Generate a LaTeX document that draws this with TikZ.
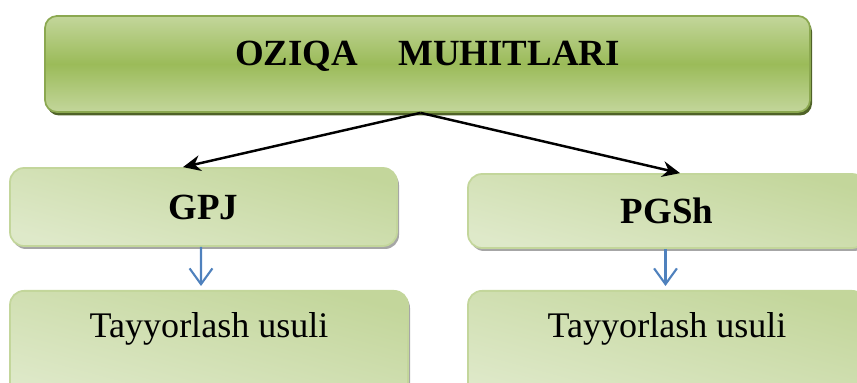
\documentclass[tikz,border=0pt]{standalone}
\usepackage{fontspec}
\setmainfont{Liberation Serif}
\usetikzlibrary{positioning,shadows,arrows.meta}
\definecolor{mygreen}{RGB}{155,187,89}
\definecolor{mylightgreen}{RGB}{195,214,155}
\definecolor{mypalegreen}{RGB}{240,245,231}
\definecolor{mydarkgreen}{RGB}{79,98,40}
\definecolor{myblue}{RGB}{79,129,189}

\begin{document}
\begin{tikzpicture}[
  topbox/.style={draw=mygreen!90!black,line width=1pt,rounded corners=0.24cm,
    top color=mylightgreen,bottom color=mylightgreen,middle color=mygreen,
    drop shadow={shadow xshift=0.04cm,shadow yshift=-0.07cm,fill=mydarkgreen,opacity=1},
    minimum width=15.3cm,minimum height=1.92cm,font=\fontsize{21}{24}\selectfont\bfseries},
  midbox/.style={draw=mylightgreen,line width=1pt,rounded corners=0.28cm,
    top color=mylightgreen,middle color=mypalegreen,
    bottom color=mylightgreen!40!mypalegreen,shading angle=-15,
    drop shadow={shadow xshift=0.04cm,shadow yshift=-0.06cm,fill=black!35,opacity=1},
    font=\fontsize{21}{24}\selectfont\bfseries},
  lowbox/.style={midbox,minimum width=7.96cm,minimum height=2.2cm,
    font=\fontsize{20.5}{24}\selectfont,text height=0.5cm,text depth=0.82cm},
  down/.style={-{Stealth[length=10pt,width=9pt]},line width=1.4pt,black},
  step down/.style={-{Straight Barb[length=9pt,width=13pt]},line width=1.2pt,myblue,
    shorten >=0.08cm}
]
\useasboundingbox (0,0) rectangle (17.14,-7.66);
\clip (0,0) rectangle (17.14,-7.66);

% the heading
\node[topbox,text height=0.5cm,text depth=0.43cm] (top) at (8.55,-1.28) {OZIQA\hspace{0.8cm}MUHITLARI};

% the two kinds
\node[midbox,minimum width=7.74cm,minimum height=1.56cm] (gpj) at (4.07,-4.14) {GPJ};
\node[midbox,minimum width=7.96cm,minimum height=1.48cm] (pgsh) at (13.34,-4.22) {PGSh};

% how they are made
\node[lowbox,anchor=north] (gpjway) at (4.18,-5.80) {Tayyorlash usuli};
\node[lowbox,anchor=north] (pgshway) at (13.34,-5.80) {Tayyorlash usuli};

% the edges
\draw[down] ([xshift=-0.14cm]top.south) -- ([xshift=-0.41cm]gpj.north);
\draw[down] ([xshift=-0.14cm]top.south) -- ([xshift=0.26cm]pgsh.north);
\draw[step down] ([xshift=-0.05cm]gpj.south) -- ([xshift=-0.16cm]gpjway.north);
\draw[step down] ([xshift=-0.03cm]pgsh.south) -- ([xshift=-0.03cm]pgshway.north);
\end{tikzpicture}
\end{document}
